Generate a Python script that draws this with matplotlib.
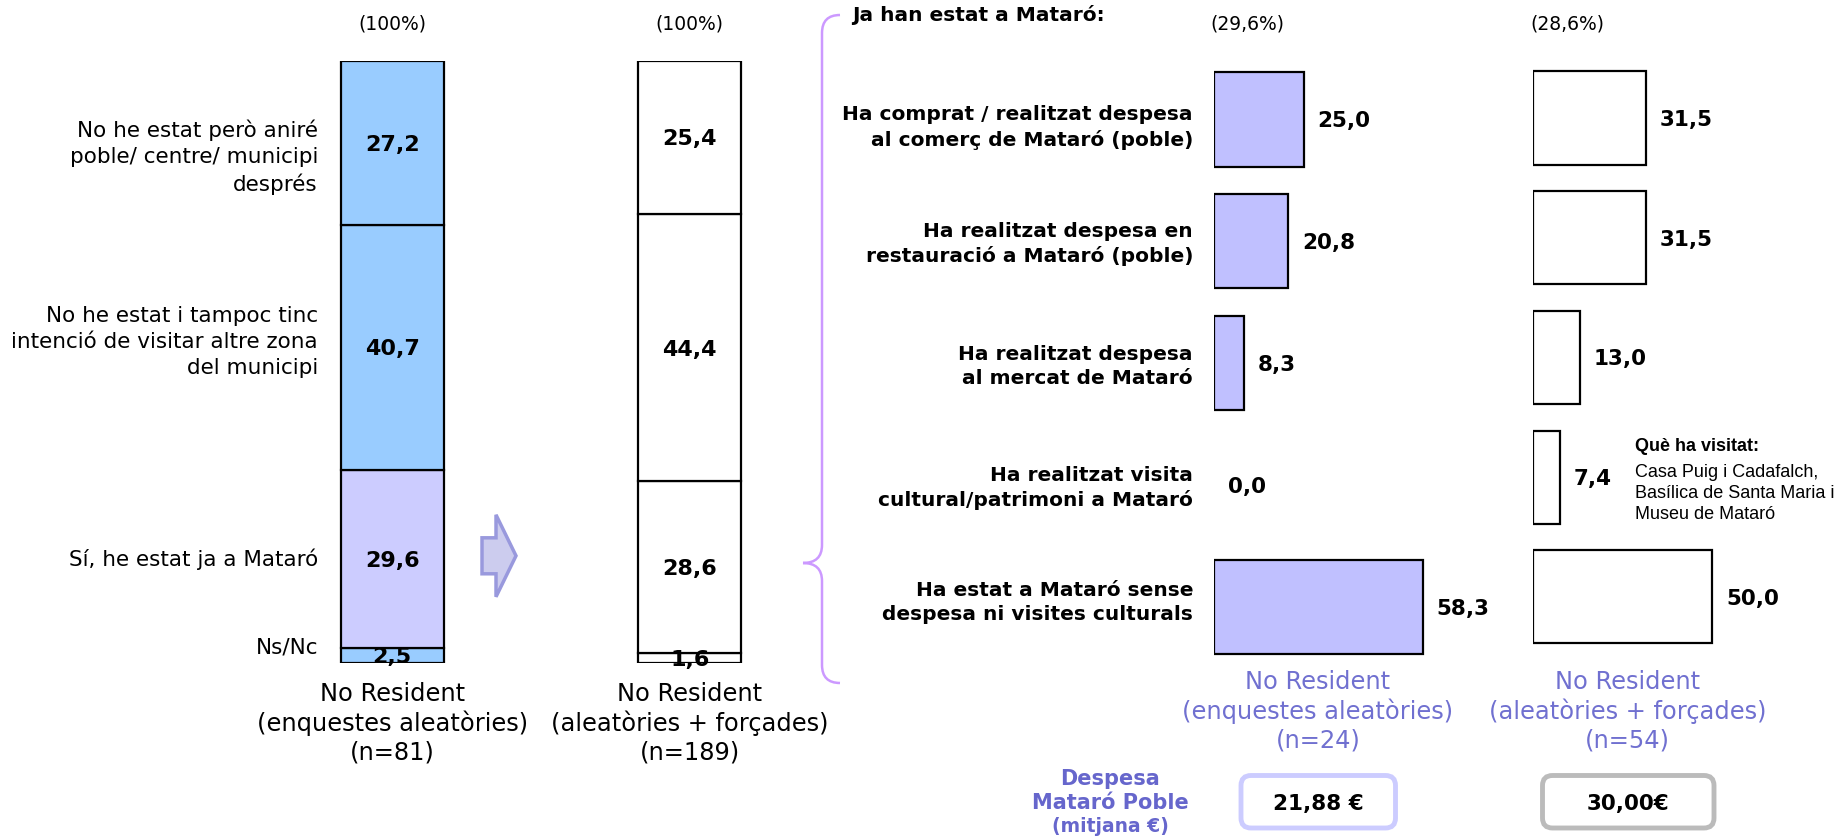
import matplotlib
matplotlib.use("Agg")
import matplotlib.pyplot as plt
from matplotlib.patches import FancyArrow, FancyBboxPatch, PathPatch
from matplotlib.path import Path

# ---------------------------------------------------------------------------
# Data
# ---------------------------------------------------------------------------
# stacked bars, listed bottom -> top
stack_labels = [
    "Ns/Nc",
    "Sí, he estat ja a Mataró",
    "No he estat i tampoc tinc\nintenció de visitar altre zona\ndel municipi",
    "No he estat però aniré\npoble/ centre/ municipi\ndesprés",
]
stack_random = [2.5, 29.6, 40.7, 27.2]
stack_all = [1.6, 28.6, 44.4, 25.4]
stack_groups = [
    "No Resident\n(enquestes aleatòries)\n(n=81)",
    "No Resident\n(aleatòries + forçades)\n(n=189)",
]

# what the ones who have been in Mataró did (top -> bottom)
visit_labels = [
    "Ha comprat / realitzat despesa\nal comerç de Mataró (poble)",
    "Ha realitzat despesa en\nrestauració a Mataró (poble)",
    "Ha realitzat despesa\nal mercat de Mataró",
    "Ha realitzat visita\ncultural/patrimoni a Mataró",
    "Ha estat a Mataró sense\ndespesa ni visites culturals",
]
visit_random = [25.0, 20.8, 8.3, 0.0, 58.3]
visit_all = [31.5, 31.5, 13.0, 7.4, 50.0]
visit_groups = [
    "No Resident\n(enquestes aleatòries)\n(n=24)",
    "No Resident\n(aleatòries + forçades)\n(n=54)",
]
spend_labels = ["21,88 €", "30,00€"]
visited_places = "Casa Puig i Cadafalch,\nBasílica de Santa Maria i\nMuseu de Mataró"

# ---------------------------------------------------------------------------
# Setup
# ---------------------------------------------------------------------------
W, H, DPI = 1839, 836, 100
plt.rcParams["font.family"] = ["DejaVu Sans"]
fig = plt.figure(figsize=(W / DPI, H / DPI), dpi=DPI)

PURPLE_TXT = "#7070d0"


def fmt(v):
    return f"{v:.1f}".replace(".", ",")


def fx(x):
    return x / W


def fy(y):
    # y measured from the top, in pixels
    return 1 - y / H


def inch(x, y):
    return (x / DPI, (H - y) / DPI)


# ---------------------------------------------------------------------------
# Left: stacked 100% bars
# ---------------------------------------------------------------------------
ax1 = fig.add_axes([fx(243.6), fy(663), 594.8 / W, 602 / H])
bar_w = 0.345
for j, vals in enumerate([stack_random, stack_all]):
    bottom = 0
    for k, v in enumerate(vals):
        if j == 0:
            color = "#ccccff" if k == 1 else "#99ccff"
        else:
            color = "white"
        ax1.bar(j, v, bottom=bottom, width=bar_w, color=color,
                edgecolor="black", linewidth=1.6)
        ax1.text(j, bottom + v / 2, fmt(v), ha="center", va="center_baseline",
                 fontsize=16, fontweight="bold")
        bottom += v
    ax1.annotate(f"({sum(vals):.0f}%)", xy=(j, 100), xytext=(0, 37.5),
                 textcoords="offset pixels", ha="center", va="center",
                 fontsize=13.5)
    ax1.annotate(stack_groups[j], xy=(j, 0), xytext=(0, -60),
                 textcoords="offset pixels", ha="center", va="center",
                 fontsize=17.4, linespacing=1.22)

# small nudges so the left labels sit where the original had them
label_dy = [0, 0, 5, -14]
bottom = 0
for k, (lbl, v) in enumerate(zip(stack_labels, stack_random)):
    # Ns/Nc sits on the top edge of its thin segment
    y = bottom + v if k == 0 else bottom + v / 2
    ax1.annotate(lbl, xy=(-bar_w / 2, y), xytext=(-23, label_dy[k]),
                 textcoords="offset pixels", ha="right", va="center",
                 fontsize=15.5, linespacing=1.38)
    bottom += v
ax1.set_xlim(-0.5, 1.5)
ax1.set_ylim(0, 100)
ax1.axis("off")

# arrow between the two stacked bars
fig.add_artist(FancyArrow(*inch(482, 555.8), 0.34, 0, width=0.36,
                          head_width=0.82, head_length=0.20,
                          length_includes_head=True,
                          transform=fig.dpi_scale_trans,
                          fc="#ccccee", ec="#9999dd", lw=2.5))

# curly bracket
verts = [(840, 15), (822, 15), (822, 33), (822, 545), (822, 563), (803, 563),
         (822, 563), (822, 581), (822, 665), (822, 683), (840, 683)]
codes = [Path.MOVETO, Path.CURVE3, Path.CURVE3, Path.LINETO, Path.CURVE3,
         Path.CURVE3, Path.CURVE3, Path.CURVE3, Path.LINETO, Path.CURVE3,
         Path.CURVE3]
brace = Path([inch(x, y) for x, y in verts], codes)
fig.add_artist(PathPatch(brace, transform=fig.dpi_scale_trans, fc="none",
                         ec="#cc99ff", lw=1.8))

fig.text(fx(852), fy(15), "Ja han estat a Mataró:", ha="left", va="center",
         fontsize=14.5, fontweight="bold")

# ---------------------------------------------------------------------------
# Right: horizontal bars per column
# ---------------------------------------------------------------------------
ax2 = fig.add_axes([fx(1214), fy(667.6), 250.6 / W, 609 / H])
ax3 = fig.add_axes([fx(1533.3), fy(656.65), 250.6 / W, 598.5 / H])
rows = range(len(visit_labels))
for ax, vals, color, hgt in [(ax2, visit_random, "#c0c0ff", 0.772),
                             (ax3, visit_all, "white", 0.777)]:
    ax.barh(rows, vals, height=hgt, color=color, edgecolor="black",
            linewidth=[1.6 if v > 0 else 0 for v in vals])
    for i, v in enumerate(vals):
        ax.annotate(fmt(v), xy=(v, i), xytext=(14, 0),
                    textcoords="offset pixels", ha="left",
                    va="center_baseline", fontsize=15.5, fontweight="bold")
    ax.set_xlim(0, 70)
    ax.set_ylim(len(vals) - 0.5, -0.5)
    ax.axis("off")

row_dy = [-8, -3, -3, -3, 4]
for i, lbl in enumerate(visit_labels):
    ax2.annotate(lbl, xy=(0, i), xytext=(-21, row_dy[i]),
                 textcoords="offset pixels", ha="right", va="center",
                 fontsize=14.5, fontweight="bold", linespacing=1.32)

fig.text(fx(1247), fy(23.5), f"({fmt(stack_random[1])}%)", ha="center",
         va="center", fontsize=13.5)
fig.text(fx(1567), fy(23.5), f"({fmt(stack_all[1])}%)", ha="center",
         va="center", fontsize=13.5)

for x, lbl in zip([1318, 1627.7], visit_groups):
    fig.text(fx(x), fy(711), lbl, ha="center", va="center", fontsize=17.4,
             color=PURPLE_TXT, linespacing=1.22)

# note on cultural visits
fig.text(fx(1634.7), fy(446.7), "Què ha visitat:", ha="left", va="center",
         fontsize=13, fontweight="bold", family="Liberation Sans")
fig.text(fx(1634.7), fy(493.5), visited_places, ha="left", va="center",
         fontsize=13, family="Liberation Sans", linespacing=1.32)

# ---------------------------------------------------------------------------
# Average spend boxes
# ---------------------------------------------------------------------------
fig.text(fx(1110), fy(779), "Despesa", ha="center", va="center",
         fontsize=15, fontweight="bold", color="#6666cc")
fig.text(fx(1110), fy(803), "Mataró Poble", ha="center", va="center",
         fontsize=15, fontweight="bold", color="#6666cc")
fig.text(fx(1110), fy(826.7), "(mitjana €)", ha="center", va="center",
         fontsize=13.5, fontweight="bold", color="#6666cc")

for (x0, x1), lbl, ec in zip([(1241, 1395.5), (1542.5, 1714)], spend_labels,
                             ["#ccccff", "#bbbbbb"]):
    x, y = inch(x0, 828)
    box = FancyBboxPatch((x, y), (x1 - x0) / DPI, 52.5 / DPI,
                         boxstyle="round,pad=0,rounding_size=0.1",
                         transform=fig.dpi_scale_trans, fc="white", ec=ec,
                         lw=3.5)
    fig.add_artist(box)
    fig.text(fx((x0 + x1) / 2), fy(802), lbl, ha="center",
             va="center_baseline", fontsize=15.5, fontweight="bold")

fig.savefig("out.png", dpi=DPI)
